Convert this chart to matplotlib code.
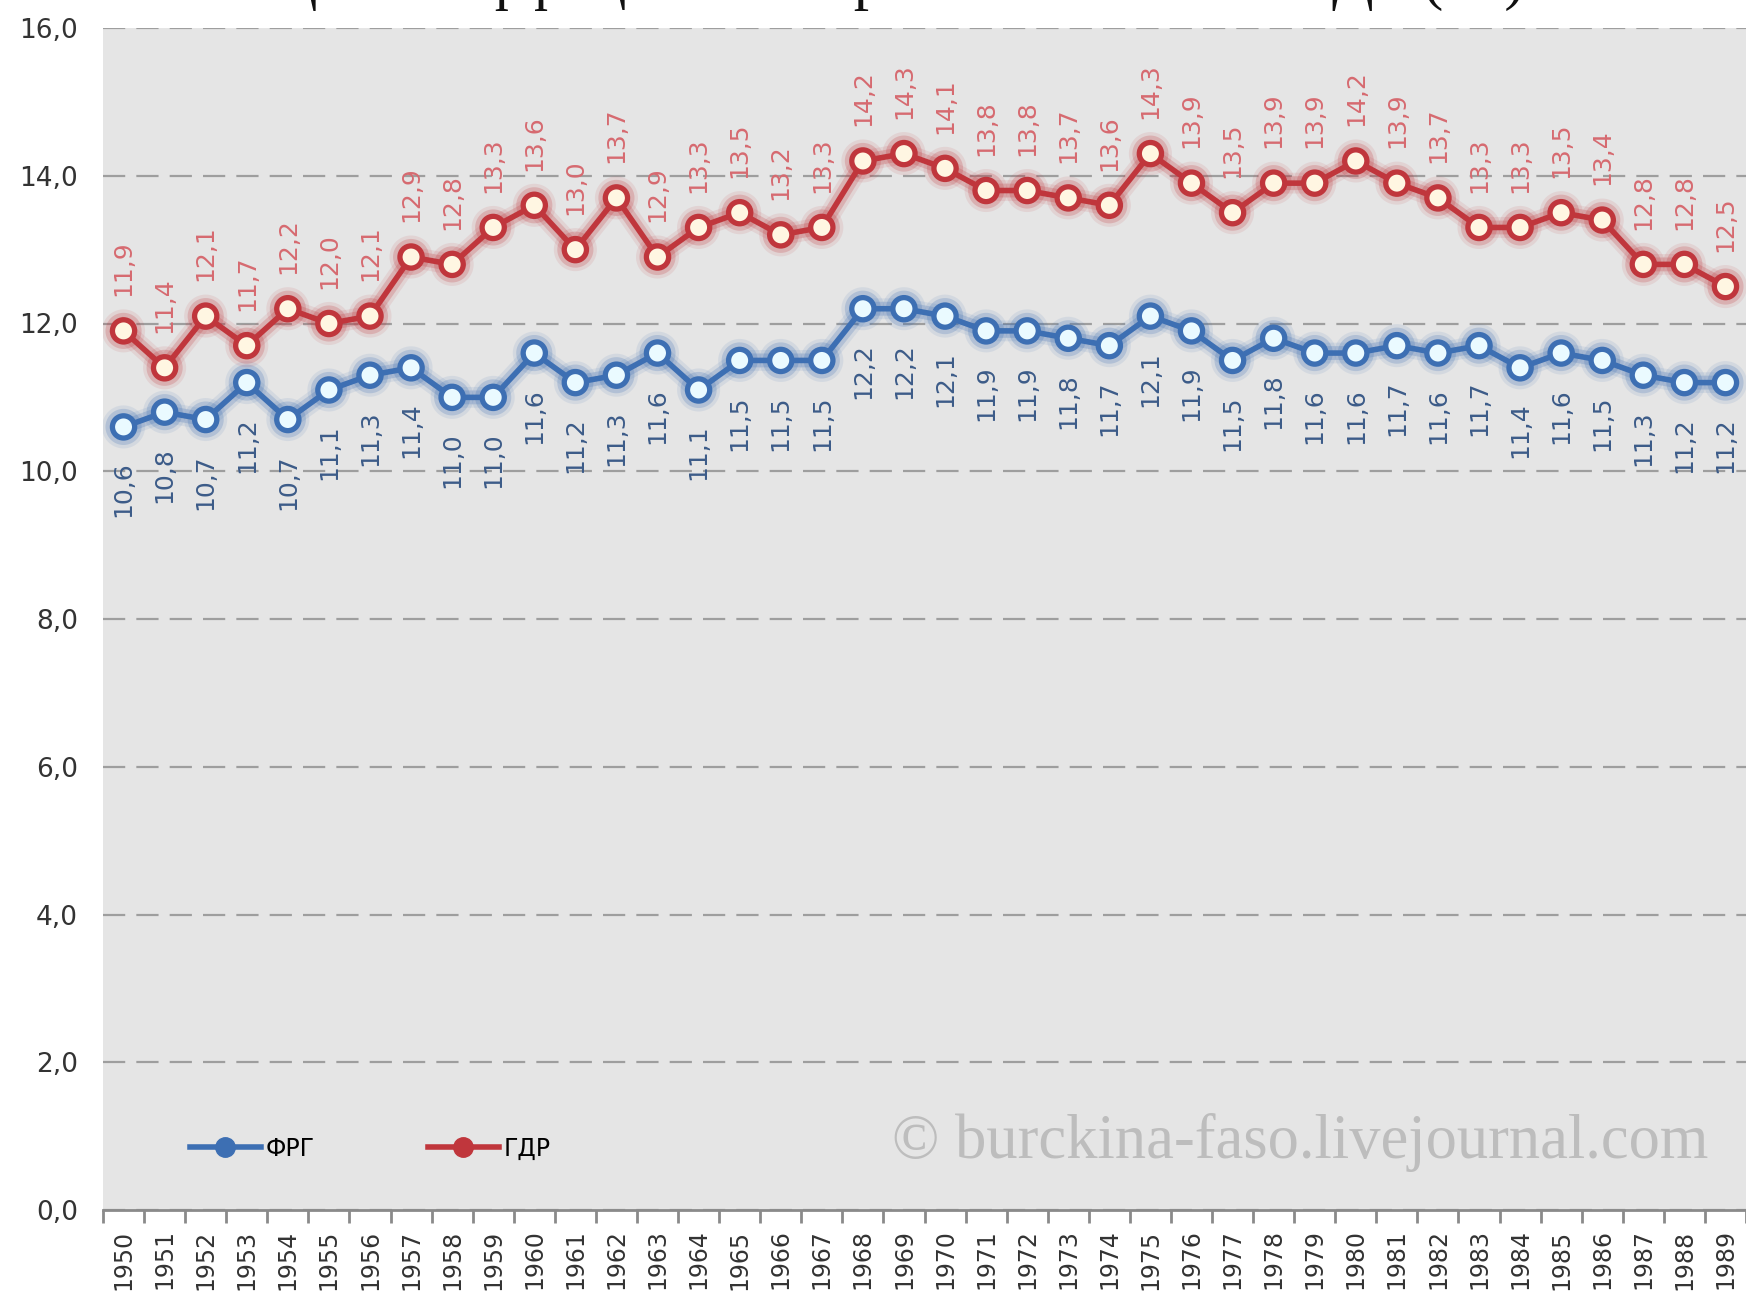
import matplotlib
matplotlib.use('Agg')
import matplotlib.pyplot as plt
import matplotlib.patheffects as pe
from matplotlib.lines import Line2D
from matplotlib.ticker import FixedLocator

# years and death rates (per 1000)
years = list(range(1950, 1990))
frg = [10.6, 10.8, 10.7, 11.2, 10.7, 11.1, 11.3, 11.4, 11.0, 11.0,
       11.6, 11.2, 11.3, 11.6, 11.1, 11.5, 11.5, 11.5, 12.2, 12.2,
       12.1, 11.9, 11.9, 11.8, 11.7, 12.1, 11.9, 11.5, 11.8, 11.6,
       11.6, 11.7, 11.6, 11.7, 11.4, 11.6, 11.5, 11.3, 11.2, 11.2]
gdr = [11.9, 11.4, 12.1, 11.7, 12.2, 12.0, 12.1, 12.9, 12.8, 13.3,
       13.6, 13.0, 13.7, 12.9, 13.3, 13.5, 13.2, 13.3, 14.2, 14.3,
       14.1, 13.8, 13.8, 13.7, 13.6, 14.3, 13.9, 13.5, 13.9, 13.9,
       14.2, 13.9, 13.7, 13.3, 13.3, 13.5, 13.4, 12.8, 12.8, 12.5]
yticks = [0, 2, 4, 6, 8, 10, 12, 14, 16]

blue = '#3d6fb3'
red = '#c0363c'

W, H = 1746, 1304
fig = plt.figure(figsize=(W / 100, H / 100), dpi=100)
ax = fig.add_axes([103 / W, 1 - 1210 / H, 1 - 103 / W, (1210 - 28) / H])
ax.set_facecolor('#e5e5e5')

x = list(range(len(years)))

def glow(c):
    return [pe.Stroke(linewidth=15, foreground=c, alpha=0.10),
            pe.Stroke(linewidth=10, foreground=c, alpha=0.22),
            pe.Normal()]

ax.plot(x, frg, color=blue, lw=4, marker='o', markersize=16,
        markerfacecolor='#eafaff', markeredgecolor=blue, markeredgewidth=3.8,
        zorder=3, path_effects=glow(blue))
ax.plot(x, gdr, color=red, lw=4, marker='o', markersize=16,
        markerfacecolor='#fff6e2', markeredgecolor=red, markeredgewidth=3.8,
        zorder=3, path_effects=glow(red))

for i in x:
    ax.annotate(f'{gdr[i]:.1f}'.replace('.', ','), (i, gdr[i]),
                xytext=(0, 25), textcoords='offset points', rotation=90,
                ha='center', va='bottom', fontsize=18, color='#d66a70')
    ax.annotate(f'{frg[i]:.1f}'.replace('.', ','), (i, frg[i]),
                xytext=(0, -25), textcoords='offset points', rotation=90,
                ha='center', va='top', fontsize=18, color='#3c5b88')

ax.set_xlim(-0.5, len(years) - 0.5)
ax.set_ylim(0, 16)
ax.set_yticks(yticks)
ax.set_yticklabels([f'{v:.1f}'.replace('.', ',') for v in yticks])
ax.set_xticks(x)
ax.set_xticklabels([str(y) for y in years], rotation=90)
ax.xaxis.set_minor_locator(FixedLocator([i - 0.5 for i in range(len(years) + 1)]))

ax.tick_params(axis='y', length=0, pad=18, labelsize=19, labelcolor='#333333')
ax.tick_params(axis='x', which='major', length=0, pad=14, labelsize=17,
               labelcolor='#333333')
ax.tick_params(axis='x', which='minor', length=9, width=2, color='#8a8a8a')

ax.yaxis.grid(True, linestyle=(0, (10, 5)), color='#9e9e9e', lw=1.6)
ax.set_axisbelow(True)
for s in ['top', 'right', 'left']:
    ax.spines[s].set_visible(False)
ax.spines['bottom'].set_color('#8a8a8a')
ax.spines['bottom'].set_linewidth(2)

handles = [Line2D([], [], color=blue, lw=4, marker='o', markersize=14),
           Line2D([], [], color=red, lw=4, marker='o', markersize=14)]
ax.legend(handles, ['ФРГ', 'ГДР'], loc='center left', bbox_to_anchor=(0.04, 0.052),
          ncol=2, frameon=False, fontsize=17, handlelength=3.0, handletextpad=0.2,
          columnspacing=4.8)

ax.text(0.977, 0.057, '© burckina-faso.livejournal.com', transform=ax.transAxes,
        ha='right', va='center', fontsize=45, color='#bdbdbd',
        family=['Liberation Serif', 'DejaVu Serif'])

# title is cut off at the top edge in the original: only the descenders show
fig.text(1525 / W, 1 + 2 / H, 'Общий коэффициент смертности в ФРГ и ГДР (‰)',
         ha='right', va='baseline', fontsize=44, color='#111111',
         family=['Liberation Serif', 'DejaVu Serif'])

fig.savefig('out.png', dpi=100)
